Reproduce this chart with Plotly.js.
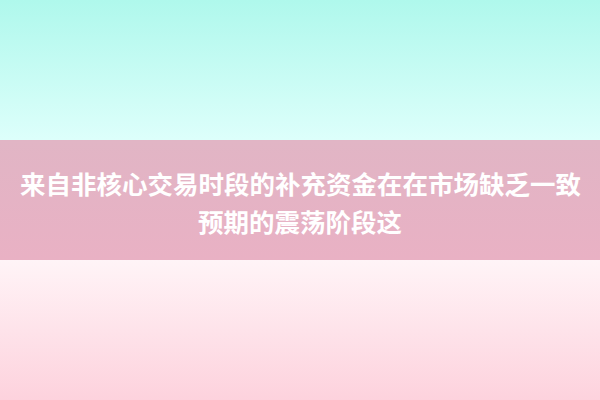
<!DOCTYPE html>
<html>
<head>
<meta charset="utf-8">
<script src="https://cdn.plot.ly/plotly-3.0.1.min.js"></script>
<style>
  html, body { margin: 0; padding: 0; }
  #banner { width: 600px; height: 400px; }
</style>
</head>
<body>
<div id="banner"></div>
<script>
// text lines of the banner
let textLines = ['来自非核心交易时段的补充资金在在市场缺乏一致', '预期的震荡阶段这'];
let textRows = [182, 220];

// three horizontal bands: top edge, bottom edge, colour at top, colour at bottom
let bandTops = [0, 140, 260];
let bandBottoms = [140, 260, 400];
let bandTopColors = ['#aff8ec', '#e1b5c5', '#fff4f7'];
let bandBottomColors = ['#ddfffb', '#e9b1c4', '#fdd2dd'];

function makeBands() {
    return bandTops.map(function (top, i) {
        let bottom = bandBottoms[i];
        return {
            type: 'scatter',
            mode: 'lines',
            x: [0, 600, 600, 0, 0],
            y: [top, top, bottom, bottom, top],
            fill: 'toself',
            // vertical gradient goes from screen bottom (0) to screen top (1)
            fillgradient: {
                type: 'vertical',
                colorscale: [[0, bandBottomColors[i]], [1, bandTopColors[i]]]
            },
            line: {width: 0},
            hoverinfo: 'skip',
            showlegend: false
        }
    })
}

let annotations = textLines.map(function (t, i) {
    return {
        x: 300,
        y: textRows[i],
        xref: 'x',
        yref: 'y',
        text: t,
        showarrow: false,
        xanchor: 'center',
        yanchor: 'middle',
        font: {
            family: '"Noto Sans CJK SC", "Noto Sans", sans-serif',
            size: 25.5,
            weight: 'bold',
            color: '#ffffff'
        }
    }
});

let layout = {
    width: 600,
    height: 400,
    margin: {r: 0, t: 0, b: 0, l: 0},
    paper_bgcolor: '#ffffff',
    plot_bgcolor: '#ffffff',
    xaxis: {range: [0, 600], visible: false, fixedrange: true},
    yaxis: {range: [400, 0], visible: false, fixedrange: true},
    annotations: annotations,
    showlegend: false
};

Plotly.newPlot('banner', makeBands(), layout, {displayModeBar: false, staticPlot: true});
</script>
</body>
</html>
